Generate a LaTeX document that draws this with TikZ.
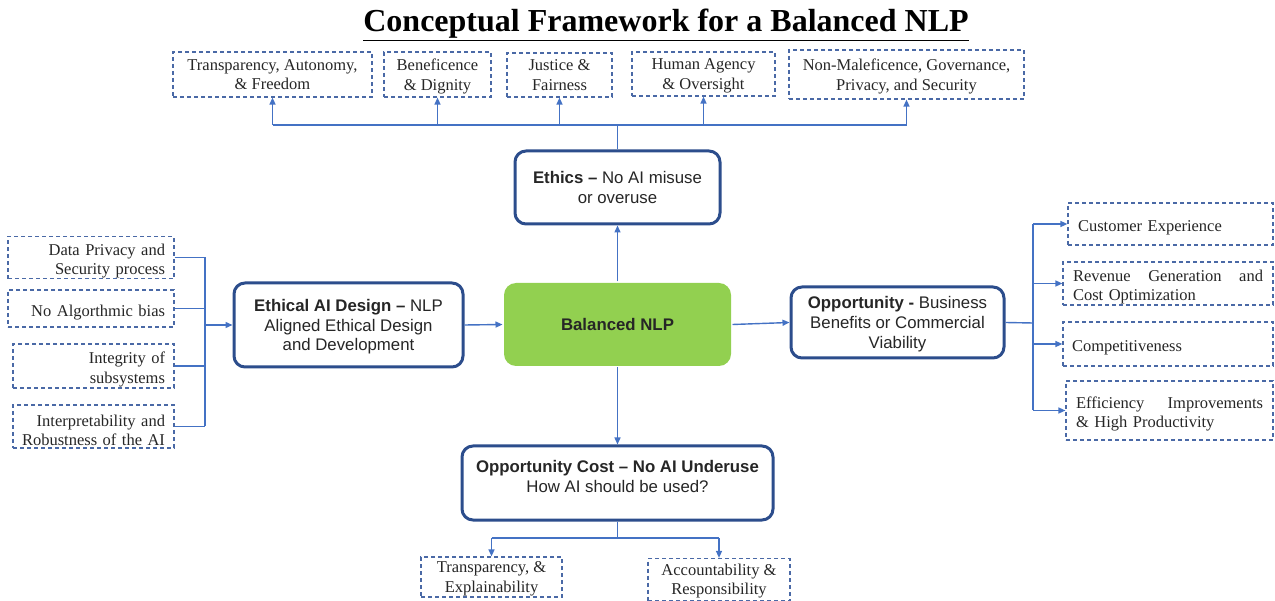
\documentclass[tikz,border=0pt]{standalone}
\usepackage{fontspec}
\setmainfont{Liberation Serif}
\newfontfamily\arial{Liberation Sans}
\usetikzlibrary{arrows.meta}
\definecolor{dashblue}{HTML}{4A69A6}
\definecolor{thickblue}{HTML}{2C4D8C}
\definecolor{connblue}{HTML}{4472C4}
\definecolor{balgreen}{HTML}{92D050}
\newcommand{\downpad}{\rule{0pt}{19pt}}
\tikzset{
  dbox/.style={draw=dashblue, dash pattern=on 4pt off 3pt, line width=1.2pt, inner sep=0pt,
    font=\fontsize{16.5}{19.5}\selectfont, text=black!85},
  cbox/.style={dbox, align=center, text depth=0pt},
  bigbox/.style={draw=thickblue, line width=3pt, rounded corners=11pt, inner sep=0pt, align=center, text depth=0pt,
    font=\arial\fontsize{16.8}{19.8}\selectfont, text=black!85, fill=white},
  conn/.style={draw=connblue, line width=1.4pt},
  arr/.style={conn, -{Triangle[length=7pt,width=6pt]}},
}
\begin{document}
\begin{tikzpicture}[x=1pt,y=-1pt]
\useasboundingbox (0,0) rectangle (1275,601);
% title
\node (title) at (666,25) {\fontsize{32}{38}\selectfont\bfseries\underline{Conceptual Framework for a Balanced NLP}};
% top boxes
\node[cbox, minimum width=199, minimum height=45] (t1) at (272.5,74.5) {Transparency, Autonomy,\\\& Freedom};
\node[cbox, minimum width=107, minimum height=45] (t2) at (437.5,74.5) {Beneficence\\\& Dignity};
\node[cbox, minimum width=105, minimum height=44] (t3) at (559.5,75) {Justice \&\\Fairness};
\node[cbox, minimum width=143, minimum height=44] (t4) at (703.5,74) {Human Agency\\\& Oversight};
\node[cbox, minimum width=235, minimum height=49] (t5) at (906.5,74.5) {Non-Maleficence, Governance,\\Privacy, and Security};
% main boxes
\node[bigbox, minimum width=205, minimum height=73] (ethics) at (617.5,187.5) {\textbf{Ethics –} No AI misuse\\or overuse};
\node[bigbox, draw=none, fill=balgreen, rounded corners=12pt, minimum width=227, minimum height=83] (bal) at (617.5,324.5) {\textbf{Balanced NLP}};
\node[bigbox, minimum width=229, minimum height=84] (ead) at (348.5,325) {\textbf{Ethical AI Design –} NLP\\Aligned Ethical Design\\and Development};
\node[bigbox, minimum width=213, minimum height=71] (opp) at (897.5,322.5) {\textbf{Opportunity -} Business\\Benefits or Commercial\\Viability};
\node[bigbox, minimum width=311, minimum height=74] (oc) at (617.5,483) {\textbf{Opportunity Cost – No AI Underuse}\\How AI should be used?\\[-6pt]\strut};
% left boxes
\node[dbox, align=right, text width=148, minimum width=166, minimum height=35] (l1) at (91,257.5) {\downpad Data Privacy and\\Security process};
\node[dbox, align=right, text width=148, minimum width=166, minimum height=37] (l2) at (91,308.5) {\downpad No Algorthmic bias};
\node[dbox, align=right, text width=143, minimum width=161, minimum height=44] (l3) at (93.5,366) {\downpad Integrity of\\subsystems};
\node[dbox, align=right, text width=143, minimum width=161, minimum height=43] (l4) at (93.5,426.5) {\downpad Interpretability and\\Robustness of the AI};
% right boxes
\node[dbox, align=left, text width=185, minimum width=205, minimum height=42] (r1) at (1170.5,224) {\downpad Customer Experience};
\node[dbox, align=left, text width=190, minimum width=210, minimum height=43] (r2) at (1168,283.5) {\hbox to 190pt{\downpad Revenue\hfill Generation\hfill and}\\Cost Optimization};
\node[dbox, align=left, text width=192, minimum width=210, minimum height=44] (r3) at (1168,344) {\downpad Competitiveness};
\node[dbox, align=left, text width=187, minimum width=207, minimum height=59] (r4) at (1169.5,410.5) {\hbox to 187pt{\downpad Efficiency\hfill Improvements}\\\& High Productivity};
% bottom boxes
\node[cbox, minimum width=141, minimum height=40] (b1) at (491.5,577) {Transparency, \&\\Explainability};
\node[cbox, minimum width=142, minimum height=42] (b2) at (719,579.5) {Accountability \&\\Responsibility};
% junction points
\coordinate (tj) at (617.5,125);
\coordinate (lj) at (205,325);
\coordinate (rj) at (1033,323);
\coordinate (bj) at (617.5,538);
% top connectors
\draw[conn] (ethics.north) -- (tj);
\draw[conn] (tj -| t1.south) -- (tj -| t5.south);
\foreach \n in {t1,t2,t3,t4,t5} \draw[arr] (tj -| \n.south) -- (\n.south);
% central arrows
\draw[arr] (bal.north) -- (ethics.south);
\draw[arr] (ead.east) -- (bal.west);
\draw[arr] (bal.east) -- (opp.west);
\draw[arr] (bal.south) -- (oc.north);
% left connectors
\foreach \n in {l1,l2,l3,l4} \draw[conn] (\n.east) -- (\n.east -| lj);
\draw[conn] (lj |- l1.east) -- (lj |- l4.east);
\draw[arr] (lj) -- (ead.west);
% right connectors
\draw[conn] (opp.east) -- (rj);
\draw[conn] (rj |- r1.west) -- (rj |- r4.west);
\foreach \n in {r1,r2,r3,r4} \draw[arr] (rj |- \n.west) -- (\n.west);
% bottom connectors
\draw[conn] (oc.south) -- (bj);
\draw[conn] (bj -| b1.north) -- (bj -| b2.north);
\foreach \n in {b1,b2} \draw[arr] (bj -| \n.north) -- (\n.north);
\end{tikzpicture}
\end{document}
